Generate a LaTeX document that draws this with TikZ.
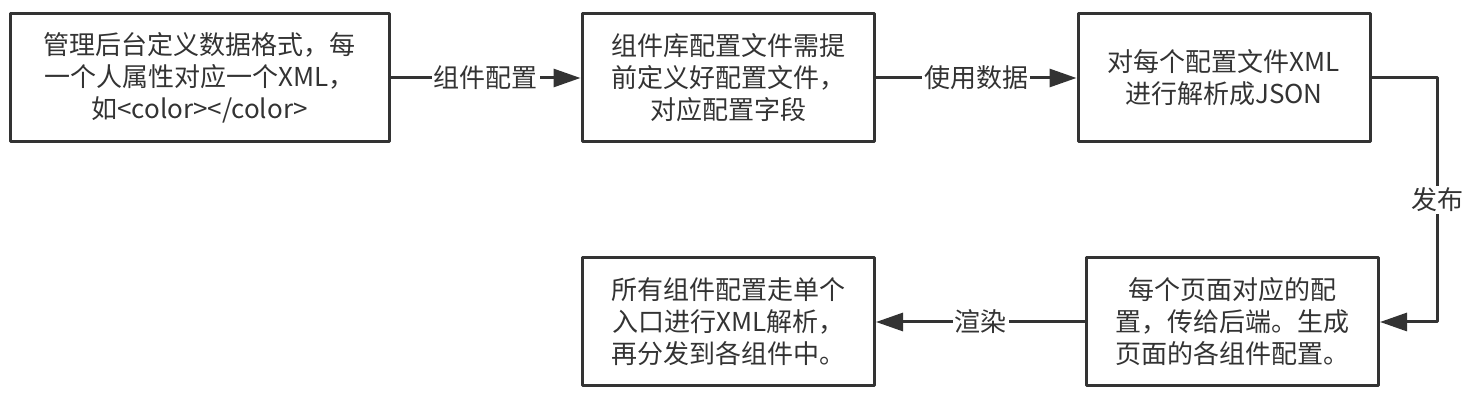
\documentclass[tikz,border=0pt]{standalone}
\usepackage{fontspec}
\newfontfamily\cjk{Noto Sans CJK SC}
\usetikzlibrary{arrows.meta}
\definecolor{ink}{HTML}{333333}

\begin{document}
\begin{tikzpicture}[x = 0.5pt, y = -0.5pt,
        box/.style = {draw = ink, line width = 1.5pt, line join = round, text = ink, align = center, inner sep = 0pt, minimum width = 146pt, minimum height = 64pt, font = {\cjk\fontsize{13pt}{16pt}\selectfont}},
        lbl/.style = {fill = white, text = ink, inner sep = 1pt, font = {\cjk\fontsize{13pt}{16pt}\selectfont}},
        arr/.style = {draw = ink, line width = 1.5pt, -{Triangle[length = 13.5pt, width = 9pt]}}]
        \useasboundingbox (0, 0) rectangle (1474, 406);

        \node [box, minimum width = 189.5pt] (admin) at (199.5, 78) {管理后台定义数据格式，每\\一个人属性对应一个XML，\\如<color></color>};
        \node [box] (lib) at (728, 78) {组件库配置文件需提\\前定义好配置文件，\\对应配置字段};
        \node [box] (parse) at (1224, 78) {对每个配置文件XML\\进行解析成JSON};
        \node [box] (page) at (1232.5, 322) {每个页面对应的配\\置，传给后端。生成\\页面的各组件配置。};
        \node [box] (entry) at (728.5, 322) {所有组件配置走单个\\入口进行XML解析，\\再分发到各组件中。};
        \coordinate (turn) at (1437, 78);

        \draw [arr] (admin) -- node [lbl, midway] {组件配置} (lib);
        \draw [arr] (lib) -- node [lbl, midway] {使用数据} (parse);
        \draw [arr, line join = round] (parse.east) -- (turn) |- node [lbl, pos = .25] {发布} (page.east);
        \draw [arr] (page) -- node [lbl, midway] {渲染} (entry);
\end{tikzpicture}
\end{document}
